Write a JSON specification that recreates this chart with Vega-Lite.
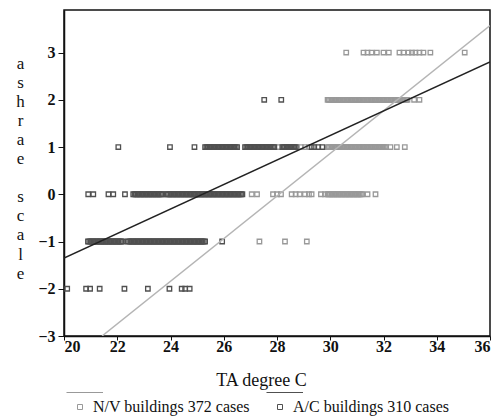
{
  "$schema": "https://vega.github.io/schema/vega-lite/v6.json",
  "autosize": {"type": "none"},
  "padding": {"left": 64, "top": 10, "right": 5, "bottom": 81},
  "width": 426,
  "height": 326,
  "background": "white",
  "config": {
    "view": {"stroke": "#111", "strokeWidth": 1.5},
    "axis": {"grid": false, "domainColor": "#111", "domainWidth": 1.5, "tickColor": "#111", "labelColor": "#111", "titleColor": "#111", "labelFont": "Liberation Serif", "titleFont": "Liberation Serif"}
  },
  "datasets": {
    "pts": [
      {"t":27.34,"s":-1,"g":"N/V"},{"t":28.3,"s":-1,"g":"N/V"},{"t":29.12,"s":-1,"g":"N/V"},
      {"t":27.05,"s":0,"g":"N/V"},{"t":27.25,"s":0,"g":"N/V"},{"t":27.85,"s":0,"g":"N/V"},{"t":28.0,"s":0,"g":"N/V"},{"t":28.15,"s":0,"g":"N/V"},{"t":28.55,"s":0,"g":"N/V"},{"t":28.7,"s":0,"g":"N/V"},{"t":28.85,"s":0,"g":"N/V"},{"t":29.05,"s":0,"g":"N/V"},{"t":29.2,"s":0,"g":"N/V"},{"t":29.3,"s":0,"g":"N/V"},{"t":29.65,"s":0,"g":"N/V"},{"t":29.8,"s":0,"g":"N/V"},
      {"t":29.9,"s":0,"g":"N/V"},{"t":29.95,"s":0,"g":"N/V"},{"t":30.0,"s":0,"g":"N/V"},{"t":30.05,"s":0,"g":"N/V"},{"t":30.1,"s":0,"g":"N/V"},{"t":30.15,"s":0,"g":"N/V"},{"t":30.2,"s":0,"g":"N/V"},{"t":30.25,"s":0,"g":"N/V"},{"t":30.3,"s":0,"g":"N/V"},{"t":30.35,"s":0,"g":"N/V"},{"t":30.4,"s":0,"g":"N/V"},{"t":30.45,"s":0,"g":"N/V"},{"t":30.5,"s":0,"g":"N/V"},{"t":30.55,"s":0,"g":"N/V"},{"t":30.6,"s":0,"g":"N/V"},{"t":30.65,"s":0,"g":"N/V"},{"t":30.7,"s":0,"g":"N/V"},{"t":30.75,"s":0,"g":"N/V"},{"t":30.8,"s":0,"g":"N/V"},{"t":30.85,"s":0,"g":"N/V"},{"t":30.9,"s":0,"g":"N/V"},{"t":30.95,"s":0,"g":"N/V"},{"t":31.0,"s":0,"g":"N/V"},{"t":31.05,"s":0,"g":"N/V"},{"t":31.1,"s":0,"g":"N/V"},{"t":31.15,"s":0,"g":"N/V"},{"t":31.2,"s":0,"g":"N/V"},{"t":31.4,"s":0,"g":"N/V"},{"t":31.7,"s":0,"g":"N/V"},
      {"t":28.05,"s":1,"g":"N/V"},{"t":28.75,"s":1,"g":"N/V"},{"t":28.9,"s":1,"g":"N/V"},{"t":29.05,"s":1,"g":"N/V"},{"t":29.2,"s":1,"g":"N/V"},
      {"t":29.9,"s":1,"g":"N/V"},{"t":29.95,"s":1,"g":"N/V"},{"t":30.0,"s":1,"g":"N/V"},{"t":30.05,"s":1,"g":"N/V"},{"t":30.1,"s":1,"g":"N/V"},{"t":30.15,"s":1,"g":"N/V"},{"t":30.2,"s":1,"g":"N/V"},{"t":30.25,"s":1,"g":"N/V"},{"t":30.3,"s":1,"g":"N/V"},{"t":30.35,"s":1,"g":"N/V"},{"t":30.4,"s":1,"g":"N/V"},{"t":30.45,"s":1,"g":"N/V"},{"t":30.5,"s":1,"g":"N/V"},{"t":30.55,"s":1,"g":"N/V"},{"t":30.6,"s":1,"g":"N/V"},{"t":30.65,"s":1,"g":"N/V"},{"t":30.7,"s":1,"g":"N/V"},{"t":30.75,"s":1,"g":"N/V"},{"t":30.8,"s":1,"g":"N/V"},{"t":30.85,"s":1,"g":"N/V"},{"t":30.9,"s":1,"g":"N/V"},{"t":30.95,"s":1,"g":"N/V"},{"t":31.0,"s":1,"g":"N/V"},{"t":31.05,"s":1,"g":"N/V"},{"t":31.1,"s":1,"g":"N/V"},{"t":31.15,"s":1,"g":"N/V"},{"t":31.2,"s":1,"g":"N/V"},{"t":31.25,"s":1,"g":"N/V"},{"t":31.3,"s":1,"g":"N/V"},{"t":31.35,"s":1,"g":"N/V"},{"t":31.4,"s":1,"g":"N/V"},{"t":31.45,"s":1,"g":"N/V"},{"t":31.5,"s":1,"g":"N/V"},{"t":31.55,"s":1,"g":"N/V"},{"t":31.6,"s":1,"g":"N/V"},{"t":31.65,"s":1,"g":"N/V"},{"t":31.7,"s":1,"g":"N/V"},{"t":31.75,"s":1,"g":"N/V"},{"t":31.8,"s":1,"g":"N/V"},{"t":31.85,"s":1,"g":"N/V"},{"t":31.9,"s":1,"g":"N/V"},{"t":31.95,"s":1,"g":"N/V"},{"t":32.0,"s":1,"g":"N/V"},{"t":32.05,"s":1,"g":"N/V"},{"t":32.1,"s":1,"g":"N/V"},{"t":32.26,"s":1,"g":"N/V"},{"t":32.5,"s":1,"g":"N/V"},{"t":32.8,"s":1,"g":"N/V"},
      {"t":29.9,"s":2,"g":"N/V"},{"t":29.95,"s":2,"g":"N/V"},{"t":30.0,"s":2,"g":"N/V"},{"t":30.05,"s":2,"g":"N/V"},{"t":30.1,"s":2,"g":"N/V"},{"t":30.15,"s":2,"g":"N/V"},{"t":30.2,"s":2,"g":"N/V"},{"t":30.25,"s":2,"g":"N/V"},{"t":30.3,"s":2,"g":"N/V"},{"t":30.35,"s":2,"g":"N/V"},{"t":30.4,"s":2,"g":"N/V"},{"t":30.45,"s":2,"g":"N/V"},{"t":30.5,"s":2,"g":"N/V"},{"t":30.55,"s":2,"g":"N/V"},{"t":30.6,"s":2,"g":"N/V"},{"t":30.65,"s":2,"g":"N/V"},{"t":30.7,"s":2,"g":"N/V"},{"t":30.75,"s":2,"g":"N/V"},{"t":30.8,"s":2,"g":"N/V"},{"t":30.85,"s":2,"g":"N/V"},{"t":30.9,"s":2,"g":"N/V"},{"t":30.95,"s":2,"g":"N/V"},{"t":31.0,"s":2,"g":"N/V"},{"t":31.05,"s":2,"g":"N/V"},{"t":31.1,"s":2,"g":"N/V"},{"t":31.15,"s":2,"g":"N/V"},{"t":31.2,"s":2,"g":"N/V"},{"t":31.25,"s":2,"g":"N/V"},{"t":31.3,"s":2,"g":"N/V"},{"t":31.35,"s":2,"g":"N/V"},{"t":31.4,"s":2,"g":"N/V"},{"t":31.45,"s":2,"g":"N/V"},{"t":31.5,"s":2,"g":"N/V"},{"t":31.55,"s":2,"g":"N/V"},{"t":31.6,"s":2,"g":"N/V"},{"t":31.65,"s":2,"g":"N/V"},{"t":31.7,"s":2,"g":"N/V"},{"t":31.75,"s":2,"g":"N/V"},{"t":31.8,"s":2,"g":"N/V"},{"t":31.85,"s":2,"g":"N/V"},{"t":31.9,"s":2,"g":"N/V"},{"t":31.95,"s":2,"g":"N/V"},{"t":32.0,"s":2,"g":"N/V"},{"t":32.05,"s":2,"g":"N/V"},{"t":32.1,"s":2,"g":"N/V"},{"t":32.15,"s":2,"g":"N/V"},{"t":32.2,"s":2,"g":"N/V"},{"t":32.25,"s":2,"g":"N/V"},{"t":32.3,"s":2,"g":"N/V"},{"t":32.35,"s":2,"g":"N/V"},{"t":32.4,"s":2,"g":"N/V"},{"t":32.45,"s":2,"g":"N/V"},{"t":32.5,"s":2,"g":"N/V"},{"t":32.55,"s":2,"g":"N/V"},{"t":32.6,"s":2,"g":"N/V"},{"t":32.65,"s":2,"g":"N/V"},{"t":32.7,"s":2,"g":"N/V"},{"t":32.75,"s":2,"g":"N/V"},{"t":32.8,"s":2,"g":"N/V"},{"t":32.85,"s":2,"g":"N/V"},{"t":32.9,"s":2,"g":"N/V"},{"t":33.15,"s":2,"g":"N/V"},{"t":33.35,"s":2,"g":"N/V"},
      {"t":30.6,"s":3,"g":"N/V"},{"t":31.25,"s":3,"g":"N/V"},{"t":31.4,"s":3,"g":"N/V"},{"t":31.55,"s":3,"g":"N/V"},{"t":31.75,"s":3,"g":"N/V"},{"t":32.0,"s":3,"g":"N/V"},{"t":32.2,"s":3,"g":"N/V"},{"t":32.6,"s":3,"g":"N/V"},{"t":32.75,"s":3,"g":"N/V"},{"t":32.94,"s":3,"g":"N/V"},{"t":33.07,"s":3,"g":"N/V"},{"t":33.2,"s":3,"g":"N/V"},{"t":33.35,"s":3,"g":"N/V"},{"t":33.5,"s":3,"g":"N/V"},{"t":33.76,"s":3,"g":"N/V"},{"t":35.05,"s":3,"g":"N/V"},
      {"t":20.12,"s":-2,"g":"A/C"},{"t":20.83,"s":-2,"g":"A/C"},{"t":20.98,"s":-2,"g":"A/C"},{"t":21.34,"s":-2,"g":"A/C"},{"t":22.27,"s":-2,"g":"A/C"},{"t":23.15,"s":-2,"g":"A/C"},{"t":23.96,"s":-2,"g":"A/C"},{"t":24.42,"s":-2,"g":"A/C"},{"t":24.55,"s":-2,"g":"A/C"},{"t":24.72,"s":-2,"g":"A/C"},
      {"t":20.9,"s":-1,"g":"A/C"},{"t":20.95,"s":-1,"g":"A/C"},{"t":21.0,"s":-1,"g":"A/C"},{"t":21.05,"s":-1,"g":"A/C"},{"t":21.1,"s":-1,"g":"A/C"},{"t":21.15,"s":-1,"g":"A/C"},{"t":21.2,"s":-1,"g":"A/C"},{"t":21.25,"s":-1,"g":"A/C"},{"t":21.3,"s":-1,"g":"A/C"},{"t":21.35,"s":-1,"g":"A/C"},{"t":21.4,"s":-1,"g":"A/C"},{"t":21.45,"s":-1,"g":"A/C"},{"t":21.5,"s":-1,"g":"A/C"},{"t":21.55,"s":-1,"g":"A/C"},{"t":21.6,"s":-1,"g":"A/C"},{"t":21.65,"s":-1,"g":"A/C"},{"t":21.7,"s":-1,"g":"A/C"},{"t":21.75,"s":-1,"g":"A/C"},{"t":21.8,"s":-1,"g":"A/C"},{"t":21.85,"s":-1,"g":"A/C"},{"t":21.9,"s":-1,"g":"A/C"},{"t":21.95,"s":-1,"g":"A/C"},{"t":22.0,"s":-1,"g":"A/C"},{"t":22.05,"s":-1,"g":"A/C"},{"t":22.1,"s":-1,"g":"A/C"},{"t":22.15,"s":-1,"g":"A/C"},{"t":22.2,"s":-1,"g":"A/C"},
      {"t":22.4,"s":-1,"g":"A/C"},{"t":22.45,"s":-1,"g":"A/C"},{"t":22.5,"s":-1,"g":"A/C"},{"t":22.55,"s":-1,"g":"A/C"},{"t":22.6,"s":-1,"g":"A/C"},{"t":22.65,"s":-1,"g":"A/C"},{"t":22.7,"s":-1,"g":"A/C"},{"t":22.75,"s":-1,"g":"A/C"},{"t":22.8,"s":-1,"g":"A/C"},{"t":22.85,"s":-1,"g":"A/C"},{"t":22.9,"s":-1,"g":"A/C"},{"t":22.95,"s":-1,"g":"A/C"},{"t":23.0,"s":-1,"g":"A/C"},{"t":23.05,"s":-1,"g":"A/C"},{"t":23.1,"s":-1,"g":"A/C"},{"t":23.15,"s":-1,"g":"A/C"},{"t":23.2,"s":-1,"g":"A/C"},{"t":23.25,"s":-1,"g":"A/C"},{"t":23.3,"s":-1,"g":"A/C"},{"t":23.35,"s":-1,"g":"A/C"},{"t":23.4,"s":-1,"g":"A/C"},{"t":23.45,"s":-1,"g":"A/C"},{"t":23.5,"s":-1,"g":"A/C"},{"t":23.55,"s":-1,"g":"A/C"},{"t":23.6,"s":-1,"g":"A/C"},{"t":23.65,"s":-1,"g":"A/C"},{"t":23.7,"s":-1,"g":"A/C"},{"t":23.75,"s":-1,"g":"A/C"},{"t":23.8,"s":-1,"g":"A/C"},{"t":23.85,"s":-1,"g":"A/C"},{"t":23.9,"s":-1,"g":"A/C"},{"t":23.95,"s":-1,"g":"A/C"},{"t":24.0,"s":-1,"g":"A/C"},{"t":24.05,"s":-1,"g":"A/C"},{"t":24.1,"s":-1,"g":"A/C"},{"t":24.15,"s":-1,"g":"A/C"},{"t":24.2,"s":-1,"g":"A/C"},{"t":24.25,"s":-1,"g":"A/C"},{"t":24.3,"s":-1,"g":"A/C"},{"t":24.35,"s":-1,"g":"A/C"},{"t":24.4,"s":-1,"g":"A/C"},{"t":24.45,"s":-1,"g":"A/C"},{"t":24.5,"s":-1,"g":"A/C"},{"t":24.55,"s":-1,"g":"A/C"},{"t":24.6,"s":-1,"g":"A/C"},{"t":24.65,"s":-1,"g":"A/C"},{"t":24.7,"s":-1,"g":"A/C"},{"t":24.75,"s":-1,"g":"A/C"},{"t":24.8,"s":-1,"g":"A/C"},{"t":24.85,"s":-1,"g":"A/C"},{"t":24.9,"s":-1,"g":"A/C"},{"t":24.95,"s":-1,"g":"A/C"},{"t":25.0,"s":-1,"g":"A/C"},{"t":25.05,"s":-1,"g":"A/C"},{"t":25.1,"s":-1,"g":"A/C"},{"t":25.15,"s":-1,"g":"A/C"},{"t":25.2,"s":-1,"g":"A/C"},{"t":25.25,"s":-1,"g":"A/C"},{"t":25.3,"s":-1,"g":"A/C"},{"t":25.94,"s":-1,"g":"A/C"},
      {"t":20.91,"s":0,"g":"A/C"},{"t":21.1,"s":0,"g":"A/C"},{"t":21.67,"s":0,"g":"A/C"},{"t":21.85,"s":0,"g":"A/C"},{"t":22.29,"s":0,"g":"A/C"},
      {"t":22.6,"s":0,"g":"A/C"},{"t":22.65,"s":0,"g":"A/C"},{"t":22.7,"s":0,"g":"A/C"},{"t":22.75,"s":0,"g":"A/C"},{"t":22.8,"s":0,"g":"A/C"},{"t":22.85,"s":0,"g":"A/C"},{"t":22.9,"s":0,"g":"A/C"},{"t":22.95,"s":0,"g":"A/C"},{"t":23.0,"s":0,"g":"A/C"},{"t":23.05,"s":0,"g":"A/C"},{"t":23.1,"s":0,"g":"A/C"},{"t":23.15,"s":0,"g":"A/C"},{"t":23.2,"s":0,"g":"A/C"},{"t":23.25,"s":0,"g":"A/C"},{"t":23.3,"s":0,"g":"A/C"},{"t":23.35,"s":0,"g":"A/C"},{"t":23.4,"s":0,"g":"A/C"},{"t":23.45,"s":0,"g":"A/C"},{"t":23.5,"s":0,"g":"A/C"},{"t":23.55,"s":0,"g":"A/C"},{"t":23.6,"s":0,"g":"A/C"},{"t":23.65,"s":0,"g":"A/C"},{"t":23.7,"s":0,"g":"A/C"},
      {"t":23.85,"s":0,"g":"A/C"},{"t":23.9,"s":0,"g":"A/C"},{"t":23.95,"s":0,"g":"A/C"},{"t":24.0,"s":0,"g":"A/C"},{"t":24.05,"s":0,"g":"A/C"},{"t":24.1,"s":0,"g":"A/C"},{"t":24.15,"s":0,"g":"A/C"},{"t":24.2,"s":0,"g":"A/C"},{"t":24.25,"s":0,"g":"A/C"},{"t":24.3,"s":0,"g":"A/C"},{"t":24.35,"s":0,"g":"A/C"},{"t":24.4,"s":0,"g":"A/C"},{"t":24.45,"s":0,"g":"A/C"},{"t":24.5,"s":0,"g":"A/C"},{"t":24.55,"s":0,"g":"A/C"},{"t":24.6,"s":0,"g":"A/C"},{"t":24.65,"s":0,"g":"A/C"},{"t":24.7,"s":0,"g":"A/C"},{"t":24.75,"s":0,"g":"A/C"},{"t":24.8,"s":0,"g":"A/C"},{"t":24.85,"s":0,"g":"A/C"},{"t":24.9,"s":0,"g":"A/C"},{"t":24.95,"s":0,"g":"A/C"},{"t":25.0,"s":0,"g":"A/C"},{"t":25.05,"s":0,"g":"A/C"},{"t":25.1,"s":0,"g":"A/C"},{"t":25.15,"s":0,"g":"A/C"},{"t":25.2,"s":0,"g":"A/C"},{"t":25.25,"s":0,"g":"A/C"},{"t":25.3,"s":0,"g":"A/C"},{"t":25.35,"s":0,"g":"A/C"},{"t":25.4,"s":0,"g":"A/C"},{"t":25.45,"s":0,"g":"A/C"},{"t":25.5,"s":0,"g":"A/C"},{"t":25.55,"s":0,"g":"A/C"},{"t":25.6,"s":0,"g":"A/C"},{"t":25.65,"s":0,"g":"A/C"},{"t":25.7,"s":0,"g":"A/C"},{"t":25.75,"s":0,"g":"A/C"},{"t":25.8,"s":0,"g":"A/C"},{"t":25.85,"s":0,"g":"A/C"},{"t":25.9,"s":0,"g":"A/C"},{"t":25.95,"s":0,"g":"A/C"},{"t":26.0,"s":0,"g":"A/C"},{"t":26.05,"s":0,"g":"A/C"},{"t":26.1,"s":0,"g":"A/C"},{"t":26.15,"s":0,"g":"A/C"},{"t":26.2,"s":0,"g":"A/C"},{"t":26.25,"s":0,"g":"A/C"},{"t":26.3,"s":0,"g":"A/C"},{"t":26.35,"s":0,"g":"A/C"},{"t":26.4,"s":0,"g":"A/C"},{"t":26.45,"s":0,"g":"A/C"},{"t":26.5,"s":0,"g":"A/C"},{"t":26.55,"s":0,"g":"A/C"},{"t":26.6,"s":0,"g":"A/C"},{"t":26.65,"s":0,"g":"A/C"},{"t":26.7,"s":0,"g":"A/C"},
      {"t":22.04,"s":1,"g":"A/C"},{"t":23.98,"s":1,"g":"A/C"},{"t":24.9,"s":1,"g":"A/C"},
      {"t":25.3,"s":1,"g":"A/C"},{"t":25.35,"s":1,"g":"A/C"},{"t":25.4,"s":1,"g":"A/C"},{"t":25.45,"s":1,"g":"A/C"},{"t":25.5,"s":1,"g":"A/C"},{"t":25.55,"s":1,"g":"A/C"},{"t":25.6,"s":1,"g":"A/C"},{"t":25.65,"s":1,"g":"A/C"},{"t":25.7,"s":1,"g":"A/C"},{"t":25.75,"s":1,"g":"A/C"},{"t":25.8,"s":1,"g":"A/C"},{"t":25.85,"s":1,"g":"A/C"},{"t":25.9,"s":1,"g":"A/C"},{"t":25.95,"s":1,"g":"A/C"},{"t":26.0,"s":1,"g":"A/C"},{"t":26.05,"s":1,"g":"A/C"},{"t":26.1,"s":1,"g":"A/C"},{"t":26.15,"s":1,"g":"A/C"},{"t":26.2,"s":1,"g":"A/C"},{"t":26.25,"s":1,"g":"A/C"},{"t":26.3,"s":1,"g":"A/C"},{"t":26.35,"s":1,"g":"A/C"},{"t":26.4,"s":1,"g":"A/C"},{"t":26.45,"s":1,"g":"A/C"},{"t":26.5,"s":1,"g":"A/C"},
      {"t":26.8,"s":1,"g":"A/C"},{"t":26.85,"s":1,"g":"A/C"},{"t":26.9,"s":1,"g":"A/C"},{"t":26.95,"s":1,"g":"A/C"},{"t":27.0,"s":1,"g":"A/C"},{"t":27.05,"s":1,"g":"A/C"},{"t":27.1,"s":1,"g":"A/C"},{"t":27.15,"s":1,"g":"A/C"},{"t":27.2,"s":1,"g":"A/C"},{"t":27.25,"s":1,"g":"A/C"},{"t":27.3,"s":1,"g":"A/C"},{"t":27.35,"s":1,"g":"A/C"},{"t":27.4,"s":1,"g":"A/C"},{"t":27.45,"s":1,"g":"A/C"},{"t":27.5,"s":1,"g":"A/C"},{"t":27.55,"s":1,"g":"A/C"},{"t":27.6,"s":1,"g":"A/C"},{"t":27.65,"s":1,"g":"A/C"},{"t":27.7,"s":1,"g":"A/C"},{"t":27.75,"s":1,"g":"A/C"},{"t":27.8,"s":1,"g":"A/C"},{"t":27.85,"s":1,"g":"A/C"},{"t":27.9,"s":1,"g":"A/C"},
      {"t":28.2,"s":1,"g":"A/C"},{"t":28.25,"s":1,"g":"A/C"},{"t":28.3,"s":1,"g":"A/C"},{"t":28.35,"s":1,"g":"A/C"},{"t":28.4,"s":1,"g":"A/C"},{"t":28.45,"s":1,"g":"A/C"},{"t":28.5,"s":1,"g":"A/C"},{"t":28.55,"s":1,"g":"A/C"},{"t":28.6,"s":1,"g":"A/C"},{"t":28.65,"s":1,"g":"A/C"},{"t":28.7,"s":1,"g":"A/C"},{"t":29.3,"s":1,"g":"A/C"},{"t":29.4,"s":1,"g":"A/C"},{"t":29.55,"s":1,"g":"A/C"},{"t":29.7,"s":1,"g":"A/C"},
      {"t":27.52,"s":2,"g":"A/C"},{"t":28.16,"s":2,"g":"A/C"}
    ],
    "fits": [
      {"t":21.43,"s":-3,"g":"N/V"},{"t":36,"s":3.57,"g":"N/V"},
      {"t":20,"s":-1.35,"g":"A/C"},{"t":36,"s":2.8,"g":"A/C"}
    ]
  },
  "layer": [
    {
      "data": {"name": "pts"},
      "mark": {"type": "point", "shape": "square", "filled": false, "size": 20, "strokeWidth": 1.3, "opacity": 1},
      "encoding": {
        "x": {"field": "t", "type": "quantitative", "scale": {"domain": [20, 36], "nice": false, "zero": false},
          "axis": {"values": [20,22,24,26,28,30,32,34,36], "labelFontSize": 16, "labelFontWeight": "bold", "tickSize": 4, "labelPadding": -2, "title": "TA degree C", "titleFontSize": 18, "titleFontWeight": "normal", "titlePadding": 17, "titleX": 197}},
        "y": {"field": "s", "type": "quantitative", "scale": {"domain": [-3, 3.9], "nice": false, "zero": false},
          "axis": {"values": [-3,-2,-1,0,1,2,3], "labelFontSize": 16, "labelFontWeight": "bold", "tickSize": 6, "labelPadding": 3,
            "title": ["a","s","h","r","a","e","\u2800","s","c","a","l","e"], "titleFontSize": 17, "titleFontWeight": "normal", "titleAngle": 0, "titleAlign": "center", "titleBaseline": "top", "titleLineHeight": 19.1, "titleX": -44, "titleY": 45}},
        "color": {"field": "g", "type": "nominal", "scale": {"domain": ["N/V","A/C"], "range": ["#999999","#505050"]},
          "legend": {"orient": "none", "legendX": 8, "legendY": 389, "direction": "horizontal", "title": null,
            "labelExpr": "datum.label == 'N/V' ? 'N/V buildings 372 cases' : 'A/C buildings 310 cases'",
            "labelFont": "Liberation Serif", "labelFontSize": 16, "labelColor": "#111", "labelOffset": 5, "columnPadding": 14,
            "symbolType": "M -5.4 -5.8 L 9.2 -5.8 M -1 -1 L 1 -1 L 1 1 L -1 1 Z", "symbolSize": 25, "symbolStrokeWidth": 1}}
      }
    },
    {
      "data": {"name": "fits"},
      "mark": {"type": "line", "strokeWidth": 1.5, "clip": true},
      "encoding": {
        "x": {"field": "t", "type": "quantitative"},
        "y": {"field": "s", "type": "quantitative"},
        "detail": {"field": "g", "type": "nominal"},
        "stroke": {"field": "g", "type": "nominal", "scale": {"domain": ["N/V","A/C"], "range": ["#b5b5b5","#222222"]}, "legend": null}
      }
    }
  ]
}
